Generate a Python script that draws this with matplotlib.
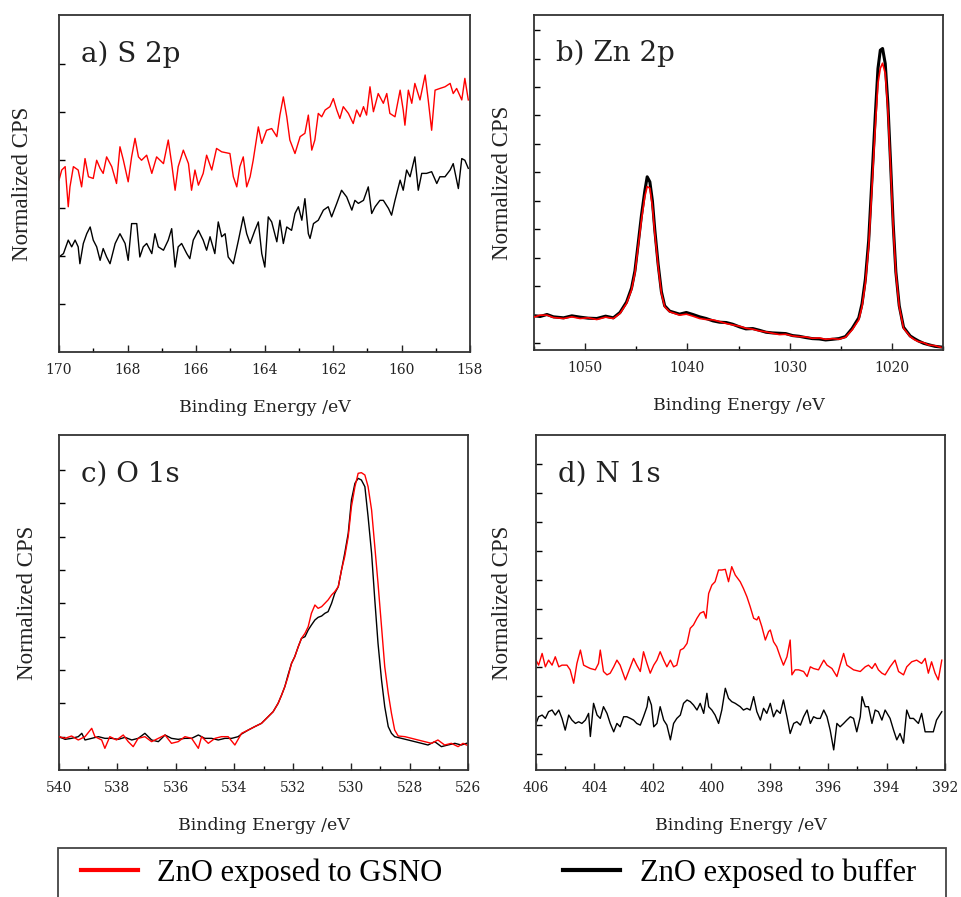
import matplotlib
matplotlib.use("Agg")
import matplotlib.pyplot as plt
import matplotlib.patches as patches
from matplotlib.lines import Line2D
from matplotlib.ticker import MultipleLocator, FixedLocator

# ---- a) S 2p ----
s2p_red_ev = [170.00, 169.92, 169.82, 169.73, 169.68, 169.58, 169.44, 169.34, 169.24, 169.14,
              169.00, 168.90, 168.80, 168.71, 168.61, 168.46, 168.32, 168.22, 168.12, 167.98,
              167.88, 167.78, 167.68, 167.59, 167.44, 167.29, 167.15, 166.95, 166.81, 166.71,
              166.61, 166.52, 166.37, 166.22, 166.13, 166.03, 165.93, 165.79, 165.69, 165.54,
              165.40, 165.25, 165.01, 164.91, 164.81, 164.72, 164.62, 164.52, 164.42, 164.33,
              164.18, 164.08, 163.94, 163.79, 163.64, 163.55, 163.45, 163.35, 163.26, 163.11,
              162.96, 162.82, 162.72, 162.62, 162.53, 162.43, 162.33, 162.23, 162.09, 161.99,
              161.89, 161.80, 161.70, 161.55, 161.41, 161.31, 161.21, 161.11, 161.02, 160.92,
              160.82, 160.68, 160.53, 160.43, 160.34, 160.19, 160.04, 159.95, 159.90, 159.80,
              159.70, 159.61, 159.46, 159.31, 159.22, 159.12, 159.02, 158.88, 158.73, 158.58,
              158.49, 158.39, 158.24, 158.15, 158.05]
s2p_red = [51.0, 54.0, 55.0, 43.1, 49.0, 55.0, 54.0, 49.0, 57.4, 52.0,
           51.5, 56.9, 54.5, 53.0, 57.9, 55.0, 50.0, 60.9, 56.9, 50.5,
           57.9, 63.4, 57.9, 56.9, 58.4, 53.0, 57.9, 55.9, 62.9, 55.9,
           48.0, 55.0, 59.9, 55.9, 48.0, 54.0, 49.5, 53.0, 58.4, 54.0,
           60.4, 59.4, 58.9, 52.0, 49.0, 55.0, 57.9, 49.0, 52.0, 56.9,
           66.8, 61.9, 65.8, 66.3, 63.9, 70.3, 75.7, 69.8, 62.9, 58.9,
           63.9, 64.9, 70.3, 59.9, 62.9, 70.8, 69.8, 71.8, 72.8, 75.2,
           71.8, 69.3, 72.8, 70.8, 67.8, 71.8, 69.8, 72.8, 70.3, 78.7,
           71.3, 76.7, 73.8, 76.7, 70.8, 69.8, 77.7, 71.8, 67.3, 77.7,
           73.8, 79.7, 74.8, 82.2, 74.8, 65.8, 77.7, 78.2, 78.7, 79.7,
           76.7, 78.2, 74.8, 81.2, 74.8]
s2p_black_ev = [170.00, 169.87, 169.73, 169.63, 169.53, 169.44, 169.39, 169.29, 169.19, 169.09,
                169.00, 168.90, 168.80, 168.71, 168.61, 168.51, 168.36, 168.22, 168.07, 167.98,
                167.88, 167.73, 167.64, 167.54, 167.44, 167.29, 167.20, 167.10, 166.95, 166.81,
                166.71, 166.61, 166.52, 166.42, 166.27, 166.18, 166.08, 165.93, 165.79, 165.69,
                165.59, 165.45, 165.35, 165.25, 165.15, 165.06, 164.91, 164.76, 164.62, 164.52,
                164.42, 164.28, 164.18, 164.08, 163.99, 163.89, 163.79, 163.64, 163.55, 163.45,
                163.35, 163.21, 163.11, 163.01, 162.91, 162.82, 162.72, 162.67, 162.57, 162.43,
                162.28, 162.14, 162.04, 161.89, 161.75, 161.60, 161.45, 161.36, 161.26, 161.11,
                160.97, 160.87, 160.77, 160.63, 160.53, 160.38, 160.29, 160.19, 160.04, 159.95,
                159.85, 159.75, 159.61, 159.51, 159.41, 159.27, 159.12, 158.97, 158.88, 158.73,
                158.58, 158.49, 158.34, 158.24, 158.15, 158.05]
s2p_black = [28.2, 29.2, 33.2, 31.2, 33.2, 31.2, 26.2, 32.2, 35.1, 37.1,
             33.2, 31.2, 27.2, 30.7, 28.2, 26.2, 32.2, 35.1, 32.2, 27.2,
             38.1, 38.1, 28.2, 31.2, 32.2, 29.2, 35.1, 31.2, 30.2, 33.2,
             36.6, 25.2, 31.2, 32.2, 29.2, 27.7, 33.2, 36.1, 33.2, 30.2,
             34.2, 29.2, 38.6, 34.2, 35.1, 28.2, 26.2, 33.2, 40.1, 35.1,
             32.2, 36.1, 38.6, 29.2, 25.2, 40.1, 38.6, 32.7, 39.1, 32.2,
             37.1, 36.1, 41.1, 43.1, 39.1, 45.5, 35.1, 33.7, 38.1, 39.1,
             42.1, 43.1, 40.1, 44.1, 48.0, 46.0, 42.1, 45.0, 44.1, 45.0,
             49.0, 41.1, 43.1, 45.0, 45.0, 42.6, 40.6, 45.0, 51.0, 48.0,
             54.0, 52.0, 57.9, 48.0, 53.0, 53.0, 53.5, 50.0, 52.0, 52.0,
             54.0, 55.9, 48.5, 57.4, 56.9, 54.5]

# ---- b) Zn 2p ----
zn_ev = [1054.93, 1054.40, 1053.73, 1053.10, 1052.11, 1051.30, 1050.49, 1049.70, 1048.86, 1048.00,
         1047.24, 1046.59, 1045.95, 1045.46, 1045.13, 1044.81, 1044.49, 1044.16, 1043.93, 1043.67,
         1043.42, 1043.19, 1042.86, 1042.54, 1042.22, 1041.73, 1040.76, 1040.10, 1039.46, 1038.80,
         1038.16, 1037.50, 1036.86, 1036.20, 1035.57, 1034.90, 1034.27, 1033.60, 1032.97, 1032.30,
         1031.67, 1031.00, 1030.38, 1029.70, 1029.08, 1028.40, 1027.78, 1027.10, 1026.48, 1025.80,
         1025.19, 1024.54, 1023.89, 1023.24, 1022.92, 1022.59, 1022.27, 1021.94, 1021.62, 1021.36,
         1021.13, 1020.91, 1020.65, 1020.39, 1020.13, 1019.87, 1019.61, 1019.28, 1018.86, 1018.21,
         1017.80, 1017.40, 1016.90, 1016.43, 1015.80, 1015.20]
zn_red = [9.9, 10.4, 10.4, 9.7, 9.4, 9.9, 9.4, 9.6, 9.1, 9.8,
          9.4, 10.9, 13.9, 17.9, 22.9, 30.8, 38.8, 45.8, 48.8, 48.3,
          42.8, 34.8, 24.9, 16.9, 12.9, 11.4, 10.4, 10.7, 10.1, 9.4,
          9.1, 9.0, 8.5, 7.9, 7.5, 7.1, 6.5, 6.2, 5.7, 5.4,
          5.0, 4.6, 4.7, 4.2, 4.0, 3.9, 3.5, 3.6, 3.2, 3.4,
          3.2, 3.8, 6.0, 9.0, 12.9, 19.9, 30.8, 48.8, 66.7, 79.6,
          84.1, 85.6, 82.6, 71.6, 54.7, 36.8, 22.9, 12.9, 6.5, 4.0,
          3.1, 2.5, 2.2, 1.5, 1.3, 0.8]
zn_black = [10.2, 10.0, 10.6, 9.9, 9.6, 10.2, 9.8, 9.5, 9.4, 10.1,
            9.6, 11.2, 14.3, 18.5, 23.6, 31.8, 40.2, 47.5, 51.7, 50.2,
            44.5, 36.0, 25.6, 17.4, 13.2, 11.6, 10.7, 11.2, 10.6, 9.9,
            9.4, 8.7, 8.3, 8.2, 7.7, 6.9, 6.3, 6.4, 5.9, 5.3,
            5.1, 5.0, 4.9, 4.3, 4.1, 3.7, 3.4, 3.3, 3.0, 3.2,
            3.4, 4.0, 6.4, 9.6, 13.8, 21.2, 32.6, 51.5, 70.1, 84.0,
            89.5, 90.0, 85.5, 73.5, 56.0, 37.5, 23.3, 13.2, 6.8, 4.2,
            3.4, 2.7, 2.0, 1.6, 1.1, 0.9]

# ---- c) O 1s ----
o1s_red_ev = [540.00, 539.79, 539.57, 539.34, 539.11, 538.88, 538.77, 538.54, 538.43, 538.26,
              538.03, 537.80, 537.63, 537.46, 537.29, 537.06, 536.83, 536.60, 536.37, 536.15,
              535.92, 535.69, 535.46, 535.23, 535.12, 534.89, 534.66, 534.44, 534.21, 533.98,
              533.75, 533.52, 533.30, 533.07, 532.84, 532.67, 532.50, 532.38, 532.27, 532.16,
              532.04, 531.93, 531.81, 531.70, 531.58, 531.47, 531.36, 531.24, 531.13, 531.01,
              530.90, 530.79, 530.67, 530.56, 530.44, 530.33, 530.22, 530.10, 529.99, 529.87,
              529.76, 529.65, 529.53, 529.42, 529.30, 529.19, 529.08, 528.96, 528.85, 528.73,
              528.62, 528.51, 528.39, 528.16, 527.93, 527.71, 527.48, 527.25, 527.03, 526.80,
              526.57, 526.34, 526.17, 526.05]
o1s_red = [9.95, 9.45, 10.15, 8.96, 9.95, 12.44, 9.95, 8.96, 6.47, 9.95,
           8.96, 10.45, 8.46, 6.97, 9.45, 9.95, 8.46, 9.45, 10.45, 7.96,
           8.46, 9.95, 9.45, 6.47, 9.95, 7.96, 9.45, 9.95, 9.95, 7.46,
           10.95, 11.94, 12.94, 13.93, 15.92, 17.41, 19.90, 22.39, 24.88, 27.86,
           31.84, 33.83, 36.82, 39.30, 40.80, 42.79, 46.77, 49.25, 48.26, 48.76,
           49.75, 50.75, 52.24, 53.23, 54.73, 59.70, 63.68, 69.65, 78.61, 84.58,
           88.56, 88.76, 88.06, 84.58, 77.61, 66.67, 55.72, 42.79, 30.85, 22.89,
           16.92, 11.94, 10.15, 9.95, 9.45, 8.96, 8.46, 7.96, 8.96, 7.46,
           7.96, 6.97, 7.96, 7.46]
o1s_black_ev = [540.00, 539.79, 539.57, 539.34, 539.22, 539.11, 538.88, 538.65, 538.43, 538.20,
                537.97, 537.74, 537.51, 537.29, 537.06, 536.83, 536.60, 536.37, 536.15, 535.92,
                535.69, 535.46, 535.23, 535.01, 534.78, 534.55, 534.32, 534.09, 533.87, 533.75,
                533.52, 533.30, 533.07, 532.84, 532.67, 532.50, 532.38, 532.27, 532.16, 532.04,
                531.93, 531.81, 531.70, 531.58, 531.47, 531.36, 531.24, 531.13, 531.01, 530.90,
                530.79, 530.67, 530.56, 530.44, 530.33, 530.22, 530.10, 529.99, 529.87, 529.76,
                529.65, 529.53, 529.42, 529.30, 529.19, 529.08, 528.96, 528.85, 528.73, 528.62,
                528.51, 528.28, 528.05, 527.82, 527.59, 527.37, 527.14, 526.91, 526.69, 526.45,
                526.23, 526.05]
o1s_black = [9.95, 9.15, 9.45, 9.95, 10.95, 8.96, 9.45, 9.95, 9.45, 9.45,
             9.15, 9.75, 8.96, 9.45, 10.95, 8.96, 8.46, 10.45, 9.45, 9.15,
             9.45, 9.45, 10.45, 9.45, 9.45, 8.96, 9.45, 9.45, 9.95, 10.75,
             11.94, 12.94, 13.93, 15.92, 17.41, 19.90, 22.39, 24.88, 28.36, 31.84,
             33.83, 36.82, 39.30, 39.80, 41.79, 43.28, 44.78, 45.57, 45.97, 46.77,
             47.26, 49.75, 52.74, 54.73, 59.70, 64.68, 70.65, 80.60, 85.57, 87.06,
             86.57, 84.58, 75.62, 64.68, 50.75, 37.81, 26.87, 18.91, 12.94, 10.95,
             9.95, 9.45, 8.96, 8.46, 7.96, 7.46, 8.46, 6.97, 7.46, 7.96,
             7.46, 7.96]

# ---- d) N 1s ----
n1s_red_ev = [406.00, 405.91, 405.79, 405.68, 405.57, 405.45, 405.34, 405.22, 405.11, 404.94,
              404.83, 404.71, 404.60, 404.48, 404.37, 404.26, 404.14, 403.97, 403.86, 403.80,
              403.69, 403.57, 403.46, 403.34, 403.23, 403.12, 402.94, 402.83, 402.66, 402.55,
              402.43, 402.32, 402.20, 402.09, 401.97, 401.86, 401.75, 401.63, 401.52, 401.40,
              401.29, 401.18, 401.06, 400.95, 400.83, 400.72, 400.61, 400.49, 400.38, 400.26,
              400.18, 400.09, 399.98, 399.87, 399.75, 399.64, 399.52, 399.41, 399.30, 399.18,
              399.01, 398.90, 398.78, 398.67, 398.55, 398.44, 398.38, 398.27, 398.15, 398.04,
              397.98, 397.87, 397.76, 397.64, 397.53, 397.41, 397.30, 397.24, 397.13, 397.01,
              396.84, 396.72, 396.61, 396.50, 396.33, 396.15, 396.04, 395.87, 395.70, 395.59,
              395.47, 395.36, 395.13, 394.90, 394.73, 394.62, 394.50, 394.39, 394.28, 394.16,
              394.05, 393.88, 393.71, 393.59, 393.42, 393.31, 393.14, 392.97, 392.80, 392.68,
              392.57, 392.46, 392.34, 392.23, 392.11]
n1s_red = [32.8, 31.3, 34.8, 30.8, 32.8, 31.3, 33.8, 30.8, 31.3, 31.3,
           29.9, 25.9, 31.8, 35.8, 31.3, 30.8, 30.3, 29.9, 31.8, 35.8,
           29.4, 28.4, 28.9, 30.8, 32.8, 31.3, 26.9, 29.4, 33.3, 31.3,
           29.4, 35.3, 31.8, 28.9, 31.3, 32.8, 35.3, 32.8, 30.8, 32.8,
           30.8, 31.3, 35.8, 36.3, 37.8, 42.3, 43.3, 45.3, 46.8, 47.3,
           45.3, 52.7, 55.2, 56.2, 59.7, 59.7, 59.9, 56.2, 60.7, 58.2,
           56.2, 54.2, 51.7, 48.8, 45.3, 44.8, 45.8, 42.8, 38.8, 41.3,
           41.8, 38.3, 36.8, 33.8, 31.3, 33.8, 38.8, 28.4, 29.9, 29.9,
           29.4, 27.9, 30.8, 30.3, 29.9, 32.8, 31.3, 30.3, 27.9, 31.3,
           34.8, 31.3, 29.9, 29.4, 30.8, 31.3, 30.3, 31.8, 29.9, 28.9,
           28.4, 30.8, 32.8, 29.4, 28.4, 30.8, 32.3, 32.8, 31.8, 33.3,
           28.9, 32.3, 28.9, 26.9, 32.8]
n1s_black_ev = [406.00, 405.91, 405.79, 405.68, 405.57, 405.45, 405.34, 405.22, 405.11, 405.00,
                404.88, 404.77, 404.65, 404.54, 404.43, 404.31, 404.20, 404.14, 404.03, 403.91,
                403.80, 403.69, 403.57, 403.46, 403.34, 403.23, 403.12, 403.00, 402.89, 402.77,
                402.66, 402.55, 402.43, 402.32, 402.20, 402.15, 402.05, 401.97, 401.86, 401.75,
                401.63, 401.52, 401.40, 401.29, 401.18, 401.06, 400.95, 400.83, 400.72, 400.61,
                400.49, 400.38, 400.26, 400.15, 400.09, 399.98, 399.87, 399.75, 399.64, 399.52,
                399.41, 399.30, 399.18, 399.01, 398.90, 398.78, 398.67, 398.55, 398.44, 398.32,
                398.21, 398.10, 397.98, 397.87, 397.76, 397.64, 397.53, 397.41, 397.30, 397.18,
                397.07, 396.95, 396.84, 396.72, 396.61, 396.50, 396.38, 396.27, 396.15, 396.04,
                395.93, 395.81, 395.70, 395.59, 395.47, 395.36, 395.24, 395.13, 395.02, 394.90,
                394.84, 394.73, 394.62, 394.50, 394.39, 394.28, 394.16, 394.05, 393.88, 393.76,
                393.65, 393.54, 393.42, 393.31, 393.20, 393.08, 392.91, 392.80, 392.68, 392.57,
                392.40, 392.29, 392.11]
n1s_black = [13.9, 15.9, 16.4, 15.4, 17.4, 17.9, 16.4, 17.9, 15.4, 11.9,
             16.4, 14.9, 13.9, 14.4, 13.9, 14.9, 16.9, 10.0, 19.9, 16.4,
             15.4, 18.9, 16.9, 13.9, 11.4, 13.9, 12.9, 15.9, 15.9, 15.4,
             14.9, 13.9, 13.4, 15.9, 18.9, 21.9, 19.4, 12.9, 13.9, 18.9,
             14.9, 13.4, 9.0, 13.9, 15.4, 16.4, 19.9, 20.9, 20.4, 19.4,
             17.9, 19.9, 16.9, 22.9, 18.9, 17.9, 16.4, 13.9, 17.9, 24.4,
             21.4, 20.4, 19.9, 18.9, 17.9, 18.4, 17.9, 21.9, 17.4, 14.9,
             18.4, 16.9, 19.9, 15.9, 17.9, 16.9, 20.9, 15.9, 10.9, 13.9,
             14.4, 13.4, 15.9, 17.9, 13.9, 15.9, 15.4, 15.4, 17.9, 15.9,
             11.9, 6.0, 13.9, 12.9, 13.9, 14.9, 15.9, 15.4, 11.4, 15.9,
             21.9, 18.9, 18.9, 13.9, 17.9, 17.4, 14.9, 17.9, 15.4, 11.9,
             9.0, 10.9, 8.0, 17.9, 15.4, 15.4, 13.9, 16.9, 11.4, 11.4,
             11.4, 14.9, 17.4]

W, H = 961, 897
fig = plt.figure(figsize=(W / 100, H / 100), dpi=100)

serif_wide = 'DejaVu Serif'
serif = 'Liberation Serif'

# panel boxes in pixels: left, top, right, bottom
boxes = [(59, 15, 470, 352), (534, 15, 943, 350), (59, 435, 468, 770), (536, 435, 945, 770)]
titles = ['a) S 2p', 'b) Zn 2p', 'c) O 1s', 'd) N 1s']
xlims = [(170, 158), (1055, 1015), (540, 526), (406, 392)]
xmajor = [2, 10, 2, 2]
ytick_start = [14.25, 2.0, 9.95, 4.7]
ytick_step = [14.25, 8.5, 9.95, 8.66]
ylab_off = [26, 21, 21, 23]

series = [
    ((s2p_red_ev, s2p_red), (s2p_black_ev, s2p_black)),
    ((zn_ev, zn_red), (zn_ev, zn_black)),
    ((o1s_red_ev, o1s_red), (o1s_black_ev, o1s_black)),
    ((n1s_red_ev, n1s_red), (n1s_black_ev, n1s_black)),
]

for i, (l, t, r, b) in enumerate(boxes):
    ax = fig.add_axes([l / W, 1 - b / H, (r - l) / W, (b - t) / H])
    (rx, ry), (kx, ky) = series[i]
    if i == 1:
        ax.plot(kx, ky, color='black', lw=2.2, zorder=2)
        ax.plot(rx, ry, color='red', lw=1.2, zorder=3)
    elif i == 2:
        ax.plot(kx, ky, color='black', lw=1.0, zorder=2)
        ax.plot(rx, ry, color='red', lw=1.0, zorder=3)
    else:
        ax.plot(rx, ry, color='red', lw=1.0)
        ax.plot(kx, ky, color='black', lw=1.0)

    ax.set_xlim(*xlims[i])
    ax.set_ylim(0, 100)
    ax.xaxis.set_major_locator(MultipleLocator(xmajor[i]))
    ax.xaxis.set_minor_locator(MultipleLocator(xmajor[i] / 2))
    yt = []
    v = ytick_start[i]
    while v < 97:
        yt.append(v)
        v += ytick_step[i]
    ax.yaxis.set_major_locator(FixedLocator(yt))
    ax.tick_params(axis='x', which='major', direction='in', length=5, width=1.0,
                   labelsize=10, pad=8, colors='#222222')
    ax.tick_params(axis='x', which='minor', direction='in', length=3, width=1.0)
    ax.tick_params(axis='y', which='major', direction='in', length=4, width=1.0,
                   labelleft=False)
    for lab in ax.get_xticklabels():
        lab.set_fontfamily(serif_wide)
    for sp in ax.spines.values():
        sp.set_linewidth(1.3)
        sp.set_color('#333333')

    ax.set_xlabel('Binding Energy /eV', fontfamily=serif_wide, fontsize=12.5,
                  labelpad=16, color='#222222')
    ax.set_ylabel('Normalized CPS', fontfamily=serif, fontsize=16.5, color='#222222')
    ax.yaxis.set_label_coords(-ylab_off[i] / (r - l), 0.5)
    ax.text(0.053, 0.862, titles[i], transform=ax.transAxes, fontfamily=serif_wide,
            fontsize=20, va='baseline', ha='left', color='#222222')

# legend box (bottom edge is cut off by the figure)
fig.add_artist(patches.Rectangle((58 / W, -0.05), 888 / W, 0.05 + (897 - 848) / H,
                                 transform=fig.transFigure, fill=False,
                                 edgecolor='#444444', lw=1.3))
handles = [Line2D([], [], color='red', lw=3), Line2D([], [], color='black', lw=3)]
fig.legend(handles, ['ZnO exposed to GSNO', 'ZnO exposed to buffer'], ncol=2,
           loc='center left', bbox_to_anchor=(81 / W, 1 - 873 / H), frameon=False,
           borderpad=0, borderaxespad=0, handlelength=1.85, handletextpad=0.65,
           columnspacing=3.95, prop={'family': serif, 'size': 22})

fig.savefig('out.png', dpi=100)
